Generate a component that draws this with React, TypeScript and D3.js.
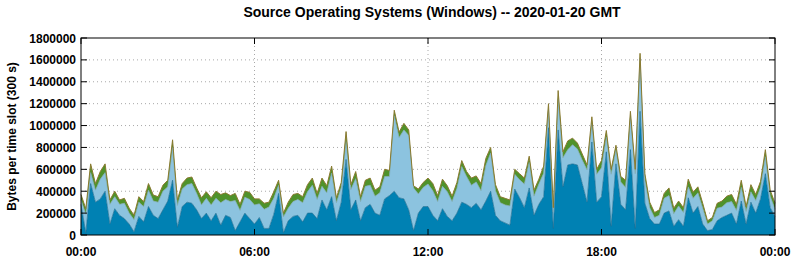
import React from "react";
import * as d3 from "d3";

// values in thousands of bytes per 300 s slot, one reading per 10 minutes (00:00 .. 24:00)
const darkSeries = [
  280, 20, 470, 300, 330, 400, 100, 240, 180, 150, 100, 30, 170, 120, 260, 180, 150, 230, 310, 500,
  70, 260, 300, 290, 230, 150, 200, 130, 200, 90, 180, 160, 40, 120, 200, 150, 100, 160, 60, 60,
  190, 380, 20, 130, 170, 180, 120, 200, 200, 150, 320, 230, 350, 130, 300, 690, 230, 320, 130, 250,
  280, 200, 180, 330, 360, 400, 340, 330, 230, 40, 200, 260, 260, 180, 130, 240, 170, 130, 200, 300,
  280, 250, 290, 230, 310, 400, 180, 130, 110, 90, 420, 340, 250, 430, 180, 280, 350, 980, 60, 960,
  440, 640, 650, 640, 470, 300, 850, 300, 350, 760, 80, 650, 280, 230, 780, 60, 1130, 290, 150, 100,
  100, 200, 220, 80, 140, 80, 340, 200, 260, 100, 40, 50, 130, 160, 180, 200, 100, 310, 100, 300,
  200, 330, 560, 250, 170,
];
const lightSeries = [
  40, 170, 100, 110, 180, 170, 180, 110, 100, 140, 100, 110, 130, 140, 150, 130, 150, 170, 130, 300,
  200, 160, 160, 180, 150, 125, 135, 145, 135, 205, 145, 145, 275, 105, 145, 175, 175, 125, 175, 195,
  145, 75, 145, 115, 135, 145, 175, 195, 255, 175, 125, 155, 215, 165, 135, 165, 185, 195, 175, 195,
  175, 155, 205, 205, 175, 690, 550, 630, 680, 390, 175, 175, 205, 225, 175, 205, 225, 175, 225, 325,
  255, 205, 195, 175, 325, 350, 225, 165, 165, 175, 135, 165, 215, 235, 175, 185, 215, 165, 150, 285,
  265, 140, 175, 145, 215, 295, 165, 255, 265, 135, 475, 125, 205, 205, 295, 500, 490, 215, 100, 60,
  80, 135, 140, 115, 125, 125, 100, 135, 125, 145, 60, 80, 115, 95, 115, 105, 125, 125, 115, 95,
  115, 105, 155, 105, 65,
];
const greenSeries = [
  50, 50, 80, 60, 70, 80, 40, 50, 40, 45, 45, 40, 50, 45, 60, 55, 50, 55, 60, 70,
  50, 50, 60, 60, 50, 65, 60, 65, 65, 75, 60, 55, 65, 55, 55, 65, 55, 45, 55, 45,
  60, 45, 35, 55, 65, 55, 55, 65, 65, 55, 75, 65, 65, 45, 45, 90, 45, 65, 45, 55,
  65, 55, 55, 65, 55, 50, 50, 60, 50, 20, 45, 45, 55, 65, 55, 65, 55, 50, 55, 55,
  45, 65, 55, 65, 65, 50, 55, 55, 60, 55, 45, 55, 55, 55, 55, 45, 65, 55, 40, 75,
  55, 80, 60, 55, 55, 45, 65, 45, 65, 60, 45, 45, 50, 65, 55, 40, 40, 55, 50, 45,
  50, 45, 70, 50, 45, 45, 70, 55, 55, 45, 30, 30, 45, 55, 60, 65, 55, 65, 45, 65,
  55, 55, 65, 55, 55,
];

const seriesKeys = ["dark", "light", "green"];
const seriesColors = { dark: "#0081b3", light: "#8cc3df", green: "#4f922b" };
const seriesEdges = { dark: "#1a6d92", light: "#7fa9b8", green: "#8a7a30" };

const yTicks = [0, 200000, 400000, 600000, 800000, 1000000, 1200000, 1400000, 1600000, 1800000];
const xTickSlots = [0, 36, 72, 108, 144];
const xTickLabels = ["00:00", "06:00", "12:00", "18:00", "00:00"];

const W = 795;
const H = 260;
const L = 81;
const R = 775;
const T = 38;
const B = 235;

export default function App() {
  const rows = darkSeries.map((d, i) => ({
    slot: i,
    dark: d * 1000,
    light: lightSeries[i] * 1000,
    green: greenSeries[i] * 1000,
  }));
  const x = d3.scaleLinear().domain([0, 144]).range([L, R]);
  const y = d3.scaleLinear().domain([0, 1800000]).range([B, T]);
  const stacked = d3.stack<any>().keys(seriesKeys)(rows);
  const area = d3
    .area<any>()
    .x((d: any) => x(d.data.slot))
    .y0((d: any) => y(d[0]))
    .y1((d: any) => y(d[1]));
  const line = d3
    .line<any>()
    .x((d: any) => x(d.data.slot))
    .y((d: any) => y(d[1]));
  const font = "'Liberation Sans', Arial, sans-serif";

  return (
    <div style={{ position: "absolute", left: 0, top: 0 }}>
      <svg width={W} height={H} style={{ display: "block", background: "#fff" }} fontFamily={font}>
        <text x={432} y={17} textAnchor="middle" fontSize={14} fontWeight="bold">
          Source Operating Systems (Windows) -- 2020-01-20 GMT
        </text>
        {yTicks.slice(1, -1).map((v) => (
          <line key={"gy" + v} x1={L} x2={R} y1={y(v)} y2={y(v)} stroke="#a8a8a8" strokeWidth={1} strokeDasharray="1,3" />
        ))}
        {xTickSlots.slice(1, -1).map((s) => (
          <line key={"gx" + s} x1={x(s)} x2={x(s)} y1={T} y2={B} stroke="#a8a8a8" strokeWidth={1} strokeDasharray="1,3" />
        ))}
        {stacked.map((layer: any) => (
          <path key={layer.key} d={area(layer) || ""} fill={(seriesColors as any)[layer.key]} />
        ))}
        {stacked.map((layer: any) => (
          <path
            key={"e" + layer.key}
            d={line(layer) || ""}
            fill="none"
            stroke={(seriesEdges as any)[layer.key]}
            strokeWidth={layer.key === "green" ? 1 : 0.7}
          />
        ))}
        <rect x={L} y={T} width={R - L} height={B - T} fill="none" stroke="#000" strokeWidth={1} />
        {yTicks.map((v) => (
          <g key={"ty" + v}>
            <line x1={L} x2={L + 6} y1={y(v)} y2={y(v)} stroke="#000" />
            <line x1={R - 6} x2={R} y1={y(v)} y2={y(v)} stroke="#000" />
            <text x={L - 5} y={y(v) + 4.5} textAnchor="end" fontSize={12} fontWeight="bold">
              {v}
            </text>
          </g>
        ))}
        {xTickSlots.map((s, i) => (
          <g key={"tx" + i}>
            <line x1={x(s)} x2={x(s)} y1={T} y2={T + 6} stroke="#000" />
            <line x1={x(s)} x2={x(s)} y1={B - 6} y2={B} stroke="#000" />
            <text x={x(s)} y={256} textAnchor="middle" fontSize={12} fontWeight="bold">
              {xTickLabels[i]}
            </text>
          </g>
        ))}
        <text
          transform={`translate(16,${(T + B) / 2}) rotate(-90)`}
          textAnchor="middle"
          fontSize={12}
          fontWeight="bold"
        >
          Bytes per time slot (300 s)
        </text>
      </svg>
    </div>
  );
}
